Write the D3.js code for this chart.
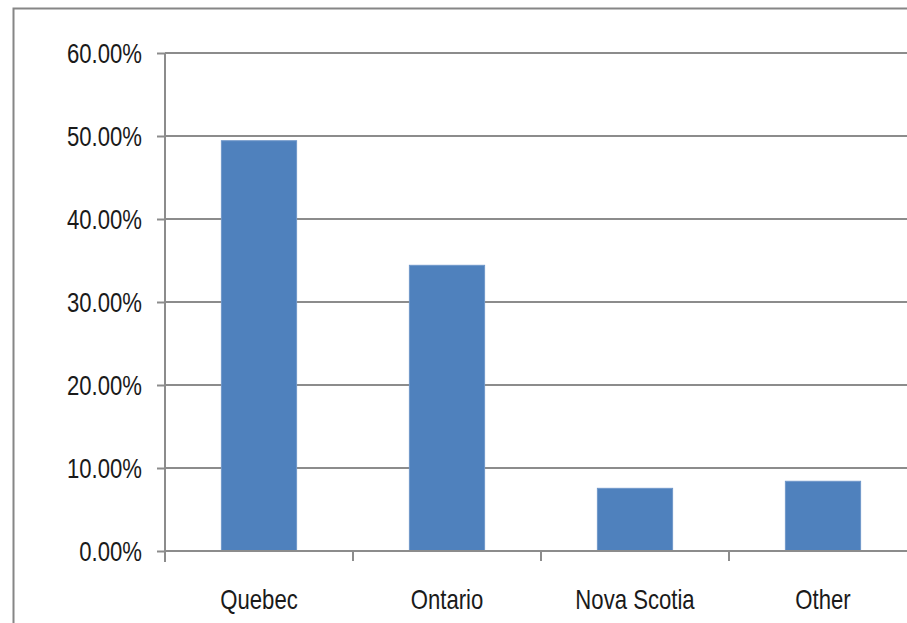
<!DOCTYPE html>
<html>
<head>
<meta charset="utf-8">
<script src="https://cdnjs.cloudflare.com/ajax/libs/d3/7.8.5/d3.min.js"></script>
<style>
  body { margin: 0; background: #fff; }
  svg { display: block; }
</style>
</head>
<body>
<div id="chart"></div>
<script>
// Chart data
const categories = ['Quebec', 'Ontario', 'Nova Scotia', 'Other'];
const shares = [0.4943, 0.3442, 0.0755, 0.0840];
const yTicks = [0, 0.1, 0.2, 0.3, 0.4, 0.5, 0.6];

const W = 907, H = 623;
const margin = { top: 53, left: 165 };
const plotW = 752, plotH = 498;
// narrow lettering: Liberation Sans squeezed horizontally
const font = '"Liberation Sans", Arial, sans-serif';
const squeeze = 0.82;

const svg = d3.select('#chart')
    .append('svg')
    .attr('width', W)
    .attr('height', H);

// Chart frame (runs off the right and bottom edges)
svg.append('rect')
    .attr('x', 13.5)
    .attr('y', 8.5)
    .attr('width', W)
    .attr('height', H)
    .attr('fill', 'none')
    .attr('stroke', '#868686')
    .attr('stroke-width', 2);

const g = svg.append('g')
    .attr('transform', `translate(${margin.left},${margin.top})`);

const x = d3.scaleBand()
    .domain(categories)
    .range([0, plotW])
    .paddingInner(0.6)
    .paddingOuter(0.3);

const y = d3.scaleLinear()
    .domain([0, 0.6])
    .range([plotH, 0]);

// Gridlines
g.selectAll('.grid')
    .data(yTicks.slice(1))
    .enter()
    .append('line')
    .attr('x1', 0)
    .attr('x2', plotW)
    .attr('y1', d => y(d))
    .attr('y2', d => y(d))
    .attr('stroke', '#8c8c8c')
    .attr('stroke-width', 2);

// Bars
g.selectAll('.bar')
    .data(categories)
    .enter()
    .append('rect')
    .attr('class', 'bar')
    .attr('x', d => x(d))
    .attr('y', (d, i) => y(shares[i]))
    .attr('width', x.bandwidth())
    .attr('height', (d, i) => plotH - y(shares[i]))
    .attr('fill', '#4f81bd')
    .attr('stroke', '#6f97c9')
    .attr('stroke-width', 1);

// Y axis
const yAxis = d3.axisLeft(y)
    .tickValues(yTicks)
    .tickFormat(d3.format('.2%'))
    .tickSize(8)
    .tickPadding(15);

const yg = g.append('g').call(yAxis);
yg.select('.domain')
    .attr('d', `M0,0V${plotH + 11}`)
    .attr('stroke', '#8c8c8c')
    .attr('stroke-width', 2);
yg.selectAll('.tick line').attr('stroke', '#8c8c8c').attr('stroke-width', 2);
yg.selectAll('.tick text')
    .attr('x', 0)
    .attr('transform', `translate(-23,0) scale(${squeeze},1)`)
    .attr('font-family', font)
    .attr('font-size', '27px')
    .attr('dy', '0.37em')
    .attr('fill', '#1a1a1a');

// X axis
const step = x.step();
const xAxisG = g.append('g').attr('transform', `translate(0,${plotH})`);
xAxisG.append('line')
    .attr('x1', 0).attr('x2', plotW)
    .attr('stroke', '#8c8c8c')
    .attr('stroke-width', 2);
xAxisG.selectAll('.xtick')
    .data(categories.slice(1))
    .enter()
    .append('line')
    .attr('x1', d => x(d) - step * 0.3)
    .attr('x2', d => x(d) - step * 0.3)
    .attr('y1', 0)
    .attr('y2', 10)
    .attr('stroke', '#8c8c8c')
    .attr('stroke-width', 2);
xAxisG.selectAll('.xlabel')
    .data(categories)
    .enter()
    .append('text')
    .attr('transform', d => `translate(${x(d) + x.bandwidth() / 2},58) scale(${squeeze},1)`)
    .attr('text-anchor', 'middle')
    .attr('font-family', font)
    .attr('font-size', '27px')
    .attr('fill', '#1a1a1a')
    .text(d => d);
</script>
</body>
</html>
